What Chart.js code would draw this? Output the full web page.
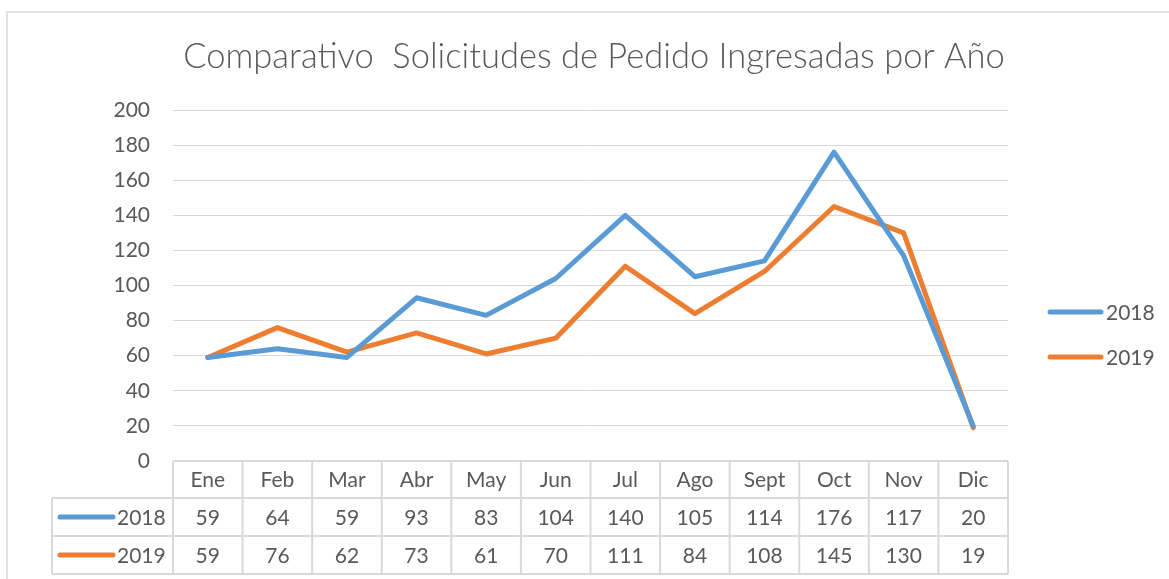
<!DOCTYPE html>
<html>
<head>
<meta charset="utf-8">
<script src="https://cdn.jsdelivr.net/npm/chart.js@4.4.1/dist/chart.umd.min.js"></script>
<style>
  html, body { margin: 0; padding: 0; background: #fff; }
  #wrap { width: 1169px; height: 579px; position: relative; }
</style>
</head>
<body>
<div id="wrap"><canvas id="myChart" width="1169" height="579"></canvas></div>
<script>
const meses = ['Ene', 'Feb', 'Mar', 'Abr', 'May', 'Jun', 'Jul', 'Ago', 'Sept', 'Oct', 'Nov', 'Dic']
const valores2018 = [59, 64, 59, 93, 83, 104, 140, 105, 114, 176, 117, 20]
const valores2019 = [59, 76, 62, 73, 61, 70, 111, 84, 108, 145, 130, 19]
const serieNombres = ['2018', '2019']
const titulo = 'Comparativo  Solicitudes de Pedido Ingresadas por Año'

const colorAzul = '#5b9bd5'
const colorNaranja = '#ed7d31'
const colorTexto = '#595959'
const colorGrid = '#d9d9d9'
const fuente = 'Lato, "Open Sans", sans-serif'

// tabla de datos + leyenda + titulo, estilo Excel
const tablaPlugin = {
  id: 'tablaExcel',
  afterDraw(chart) {
    const ctx = chart.ctx
    const area = chart.chartArea
    const xs = chart.scales.x
    const colW = (area.right - area.left) / meses.length
    const top = area.bottom
    const hdrH = 37
    const rowH = 38
    const labelLeft = 52
    ctx.save()

    // borde del grafico
    ctx.strokeStyle = colorGrid
    ctx.lineWidth = 1.5
    ctx.beginPath()
    ctx.moveTo(7, 600)
    ctx.lineTo(7, 12)
    ctx.lineTo(1200, 12)
    ctx.stroke()

    // titulo
    ctx.fillStyle = colorTexto
    ctx.font = '300 34.5px ' + fuente
    ctx.textAlign = 'center'
    ctx.textBaseline = 'middle'
    ctx.fillText(titulo, 594, 57)

    // lineas de la tabla
    ctx.strokeStyle = colorGrid
    ctx.lineWidth = 2
    ctx.beginPath()
    ctx.moveTo(area.left, top)
    ctx.lineTo(area.right, top)
    ctx.moveTo(labelLeft, top + hdrH)
    ctx.lineTo(area.right, top + hdrH)
    ctx.moveTo(labelLeft, top + hdrH + rowH)
    ctx.lineTo(area.right, top + hdrH + rowH)
    ctx.moveTo(labelLeft, top + hdrH + 2 * rowH)
    ctx.lineTo(area.right, top + hdrH + 2 * rowH)
    ctx.moveTo(labelLeft, top + hdrH)
    ctx.lineTo(labelLeft, top + hdrH + 2 * rowH)
    for (let i = 0; i <= meses.length; i++) {
      const xl = area.left + i * colW
      ctx.moveTo(xl, top)
      ctx.lineTo(xl, top + hdrH + 2 * rowH)
    }
    ctx.stroke()

    ctx.font = '21px ' + fuente
    ctx.fillStyle = colorTexto
    ctx.textAlign = 'center'
    meses.forEach((m, i) => {
      const cx = xs.getPixelForValue(i)
      ctx.fillText(m, cx, top + hdrH / 2 + 1)
    })

    const series = [valores2018, valores2019]
    const colores = [colorAzul, colorNaranja]
    series.forEach((vals, r) => {
      const cy = top + hdrH + rowH * r + rowH / 2
      ctx.textAlign = 'center'
      ctx.fillStyle = colorTexto
      vals.forEach((v, i) => {
        ctx.fillText(String(v), xs.getPixelForValue(i), cy + 1)
      })
      // clave de la serie
      ctx.strokeStyle = colores[r]
      ctx.lineWidth = 5
      ctx.lineCap = 'round'
      ctx.beginPath()
      ctx.moveTo(60, cy)
      ctx.lineTo(113, cy)
      ctx.stroke()
      ctx.textAlign = 'left'
      ctx.fillText(serieNombres[r], 117, cy + 1)

      // leyenda derecha
      const ly = 312 + r * 45
      ctx.beginPath()
      ctx.moveTo(1050, ly)
      ctx.lineTo(1101, ly)
      ctx.stroke()
      ctx.fillText(serieNombres[r], 1106, ly + 1)
    })
    ctx.restore()
  }
}

const ctx = document.getElementById('myChart')
new Chart(ctx, {
  type: 'line',
  data: {
    labels: meses,
    datasets: [
      {
        label: serieNombres[0],
        data: valores2018,
        borderColor: colorAzul,
        backgroundColor: colorAzul,
        borderWidth: 5,
        pointRadius: 0,
        tension: 0,
        borderJoinStyle: 'round',
        borderCapStyle: 'round',
      },
      {
        label: serieNombres[1],
        data: valores2019,
        borderColor: colorNaranja,
        backgroundColor: colorNaranja,
        borderWidth: 5,
        pointRadius: 0,
        tension: 0,
        borderJoinStyle: 'round',
        borderCapStyle: 'round',
      },
    ],
  },
  options: {
    responsive: false,
    animation: false,
    layout: {
      padding: { left: 0, right: 161, top: 110, bottom: 118 },
    },
    plugins: {
      legend: { display: false },
      title: { display: false },
      tooltip: { enabled: false },
    },
    scales: {
      x: {
        type: 'category',
        offset: true,
        display: false,
      },
      y: {
        min: 0,
        max: 200,
        afterFit(scale) { scale.width = 173 },
        ticks: {
          stepSize: 20,
          padding: 23,
          color: colorTexto,
          font: { family: fuente, size: 21 },
        },
        grid: {
          color: colorGrid,
          lineWidth: 1,
          drawTicks: false,
        },
        border: { display: false },
      },
    },
  },
  plugins: [tablaPlugin],
})
</script>
</body>
</html>
